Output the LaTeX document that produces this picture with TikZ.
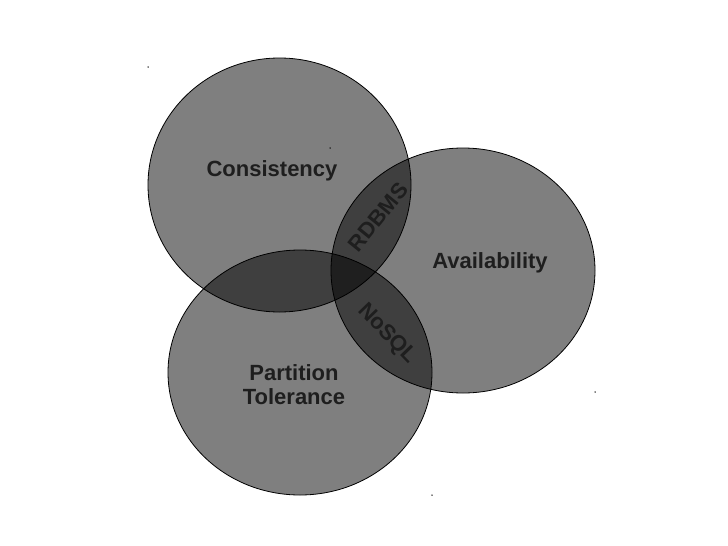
\documentclass[tikz,border=0pt]{standalone}
\usepackage{fontspec}
\setmainfont{Liberation Sans}
\definecolor{txt}{RGB}{30,30,30}
\begin{document}
\begin{tikzpicture}[x=1pt,y=-1pt,
  setcircle/.style={draw=black,line width=0.8pt,fill=black,fill opacity=0.5},
  lbl/.style={text=txt,font=\fontsize{22pt}{24pt}\selectfont\bfseries,inner sep=0pt,align=center},
  speck/.style={fill=black,inner sep=0pt,minimum size=1.5pt,circle}]
\useasboundingbox (0,0) rectangle (728,546);
\fill[white] (0,0) rectangle (728,546);
\draw[setcircle] (279.5,185) ellipse [x radius=131.5pt, y radius=127pt];
\draw[setcircle] (463,270.5) ellipse [x radius=132pt, y radius=122.5pt];
\draw[setcircle] (300,372.5) ellipse [x radius=132pt, y radius=122.5pt];
\node[lbl] (c) at (272,171) {Consistency};
\node[lbl] (a) at (490,263) {Availability};
\node[lbl] (p) at (294,385) {Partition\\Tolerance};
\node[lbl,rotate=51] (r) at (378,217) {RDBMS};
\node[lbl,rotate=-46] (n) at (387,334) {NoSQL};
\node[speck] (d1) at (148,67) {};
\node[speck] (d2) at (330,148) {};
\node[speck] (d3) at (595,392) {};
\node[speck] (d4) at (432,495) {};
\end{tikzpicture}
\end{document}
